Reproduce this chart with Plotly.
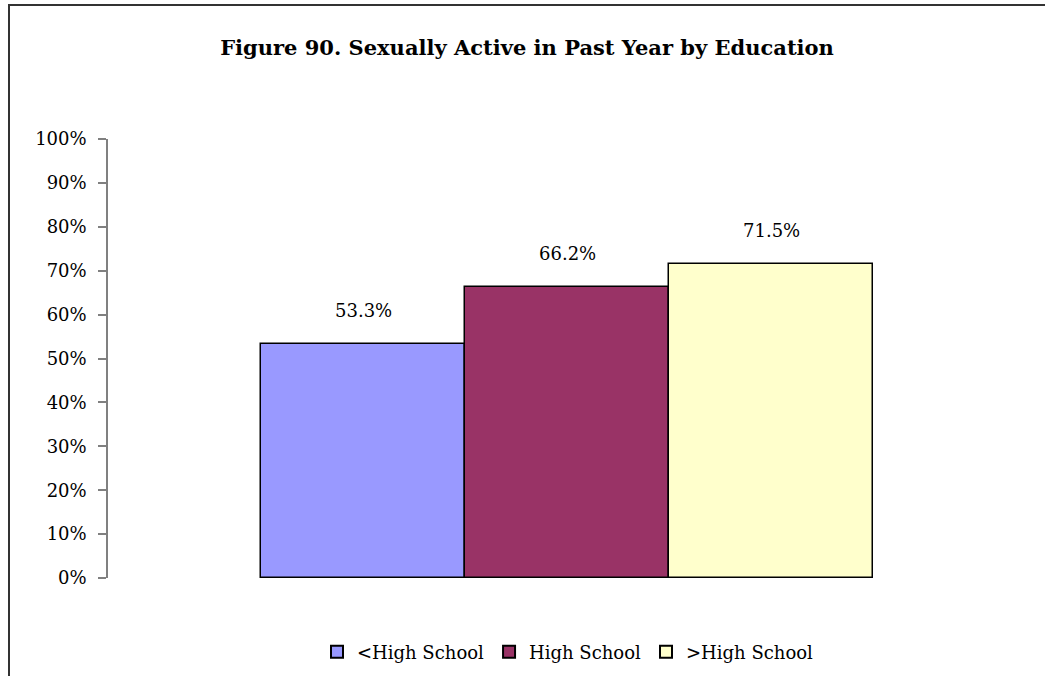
import plotly.graph_objects as go

# Education groups, share sexually active in the past year (%)
categories = ["<High School", "High School", ">High School"]
values = [53.3, 66.2, 71.5]
colors = ["#9999FF", "#993366", "#FFFFCC"]
tick_vals = list(range(0, 101, 10))
tick_text = [f"{v}%" for v in tick_vals]

FONT = "Palatino Linotype, Book Antiqua, Palatino, DejaVu Serif, serif"

fig = go.Figure()
for cat, val, col in zip(categories, values, colors):
    fig.add_trace(go.Bar(
        x=[cat], y=[val], name=cat, width=1.0,
        marker=dict(color=col, line=dict(color="#000000", width=1.5)),
        hoverinfo="skip",
    ))
    fig.add_annotation(
        x=cat, y=val, text=f"{val:.1f}%", showarrow=False,
        yanchor="bottom", yshift=21,
        font=dict(family=FONT, size=18, color="#000000"),
    )

W, H = 1045, 676
L, R, T, B = 108, 19, 139, 98
pw, ph = W - L - R, H - T - B

def px(xp):
    return (xp - L) / pw

def py(yp):
    return (H - B - yp) / ph

# Outer frame (left and top edges visible)
fig.add_shape(type="rect", xref="paper", yref="paper",
              x0=px(9), x1=px(W + 20), y0=py(H + 20), y1=py(5),
              line=dict(color="#333333", width=2), fillcolor="rgba(0,0,0,0)",
              layer="above")

fig.update_layout(
    width=W, height=H,
    margin=dict(l=L, r=R, t=T, b=B),
    paper_bgcolor="#FFFFFF", plot_bgcolor="#FFFFFF",
    barmode="overlay", bargap=0,
    showlegend=True,
    title=dict(text="<b>Figure 90. Sexually Active in Past Year by Education</b>",
               x=527 / W, xref="container", xanchor="center",
               y=1 - 48 / H, yanchor="middle",
               font=dict(family=FONT, size=21, color="#000000")),
    legend=dict(orientation="h", x=568 / W, xanchor="center", xref="container",
                y=1 - 652 / H, yref="container", yanchor="middle",
                font=dict(family=FONT, size=18, color="#000000"),
                itemsizing="constant", traceorder="normal",
                itemwidth=30, tracegroupgap=0),
    xaxis=dict(type="category", range=[-1.25, 3.25], showticklabels=False,
               showline=False, showgrid=False, zeroline=False, ticks=""),
    yaxis=dict(range=[0, 100], tickvals=tick_vals, ticktext=tick_text,
               showgrid=False, zeroline=False, showline=True,
               linecolor="#808080", linewidth=1.5,
               ticks="outside", ticklen=8, tickcolor="#808080", tickwidth=1.5,
               ticklabelstandoff=8,
               tickfont=dict(family=FONT, size=18, color="#000000")),
    font=dict(family=FONT),
)

fig.write_html("out.html")
